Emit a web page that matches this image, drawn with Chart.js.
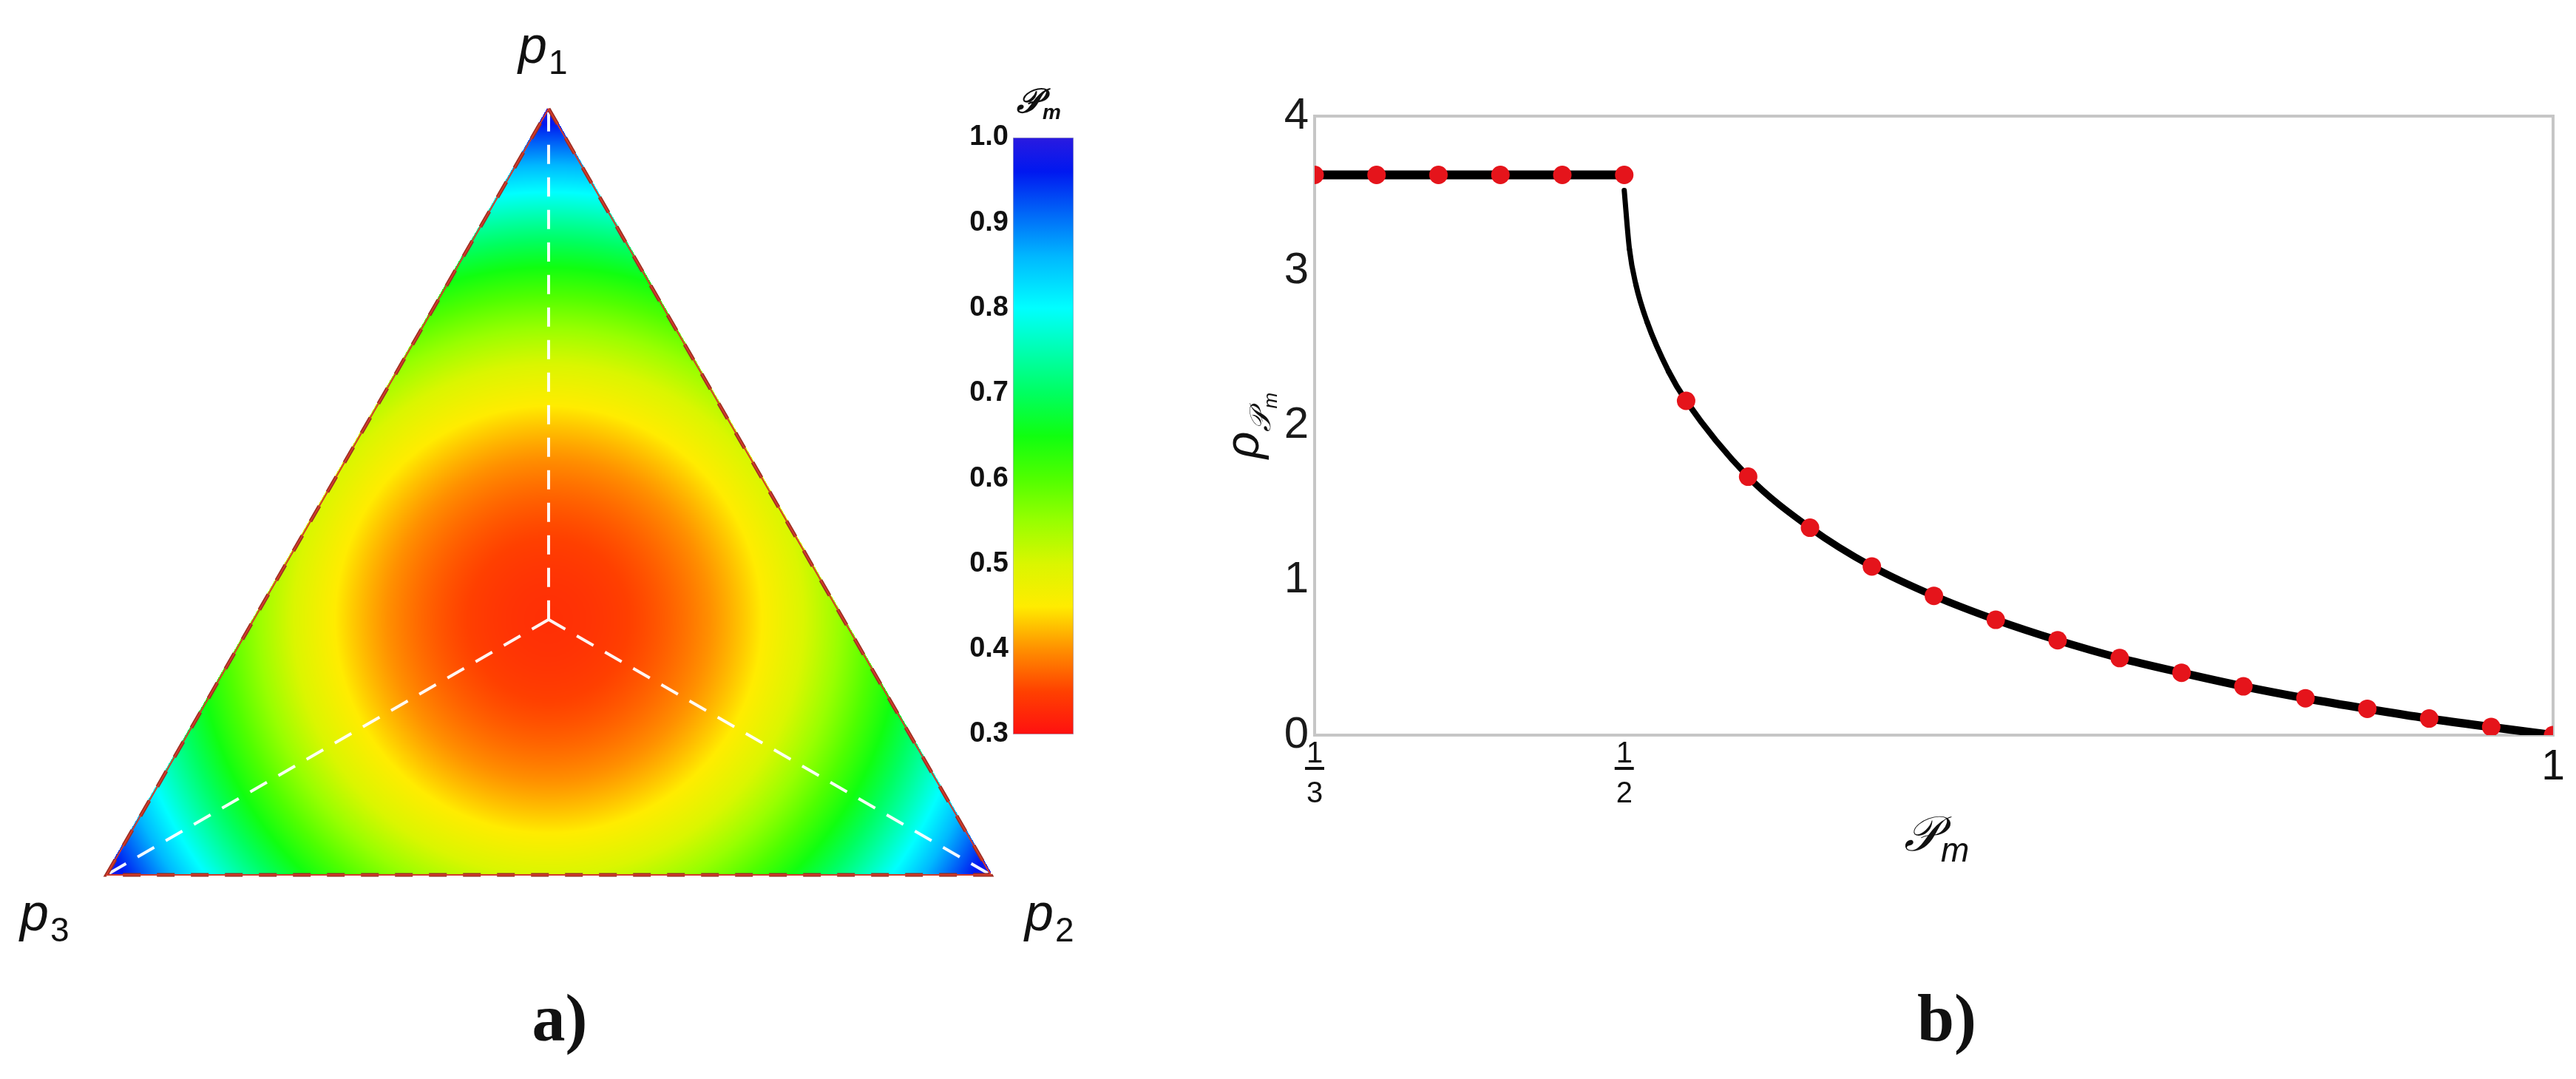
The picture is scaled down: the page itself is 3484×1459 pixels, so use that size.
<!DOCTYPE html>
<html>
<head>
<meta charset="utf-8">
<script src="https://cdn.jsdelivr.net/npm/chart.js@4.4.1/dist/chart.umd.min.js"></script>
<style>
  html, body { margin: 0; padding: 0; background: #fff; }
  body { width: 3484px; height: 1459px; position: relative; overflow: hidden; }
  canvas { position: absolute; }
</style>
</head>
<body>
<canvas id="ternary" width="1500" height="1459" style="left:0;top:0"></canvas>
<canvas id="colorbar" width="230" height="940" style="left:1250px;top:100px"></canvas>
<canvas id="rhoChart" width="1924" height="1459" style="left:1560px;top:0"></canvas>
<script>
// ---- panel a: ternary map of phi_m ----
// phi_m read at the ternary nodes, step 0.1 (row = p1 index, column = p2 index)
const phiGrid = [
  [1.00, 0.82, 0.68, 0.58, 0.52, 0.50, 0.52, 0.58, 0.68, 0.82, 1.00],
  [0.82, 0.66, 0.54, 0.46, 0.42, 0.42, 0.46, 0.54, 0.66, 0.82],
  [0.68, 0.54, 0.44, 0.38, 0.36, 0.38, 0.44, 0.54, 0.68],
  [0.58, 0.46, 0.38, 0.34, 0.34, 0.38, 0.46, 0.58],
  [0.52, 0.42, 0.36, 0.34, 0.36, 0.42, 0.52],
  [0.50, 0.42, 0.38, 0.38, 0.42, 0.50],
  [0.52, 0.46, 0.44, 0.46, 0.52],
  [0.58, 0.54, 0.54, 0.58],
  [0.68, 0.66, 0.68],
  [0.82, 0.82],
  [1.00],
];
const corners = [[1, 0, 0], [0, 1, 0], [0, 0, 1]];   // p1, p2, p3
const cornerSubs = ['1', '2', '3'];
const centre = [1 / 3, 1 / 3, 1 / 3];
const colorbarTicks = [0.3, 0.4, 0.5, 0.6, 0.7, 0.8, 0.9, 1.0];

// colour scale of the bar (value -> colour)
const cmapValues = [0.3, 0.35, 0.4, 0.45, 0.5, 0.55, 0.6, 0.65, 0.7, 0.75, 0.8, 0.86, 0.91, 0.96, 1.0];
const cmapColors = ['#ff1010', '#ff4000', '#ff9000', '#ffec00', '#daf600', '#98ff00', '#50ff00', '#10ff10',
  '#00ff60', '#00ffb0', '#00ffff', '#00b8ff', '#0068f8', '#0018f0', '#2a1ae0'];

// ---- panel b: rho vs phi_m ----
const phiFlat = [1 / 3, 11 / 30, 2 / 5, 13 / 30, 7 / 15, 1 / 2];
const rhoFlat = [3.62, 3.62, 3.62, 3.62, 3.62, 3.62];
const phiBranch = [0.5, 0.5028, 0.5063, 0.5123, 0.5239];
const rhoBranch = [3.52, 3.14, 2.91, 2.67, 2.35];
const phiDecay = [0.5333, 0.5667, 0.6, 0.6333, 0.6667, 0.7, 0.7333, 0.7667, 0.8, 0.8333, 0.8667, 0.9, 0.9333, 0.9667, 1.0];
const rhoDecay = [2.16, 1.67, 1.34, 1.09, 0.90, 0.745, 0.613, 0.498, 0.403, 0.315, 0.238, 0.170, 0.107, 0.052, 0.0];
const yTicks = [0, 1, 2, 3, 4];
const xTickValues = [1 / 3, 1 / 2, 1];
const xTickNum = ['1', '1', '1'];
const xTickDen = ['3', '2', ''];

const SANS = '"Liberation Sans", Arial, sans-serif';
const SCRIPT_P = '\u{1D4AB}';
const TRI_H = Math.sqrt(3) / 2;

function toXY(p) { return { x: p[1] + 0.5 * p[0], y: TRI_H * p[0] }; }

function hexRgb(h) { return [1, 3, 5].map((i) => parseInt(h.slice(i, i + 2), 16)); }
const cmapRgb = cmapColors.map(hexRgb);
function colorFor(v) {
  if (v <= cmapValues[0]) return cmapRgb[0];
  for (let i = 1; i < cmapValues.length; i++) {
    if (v <= cmapValues[i]) {
      const t = (v - cmapValues[i - 1]) / (cmapValues[i] - cmapValues[i - 1]);
      const a = cmapRgb[i - 1], b = cmapRgb[i];
      return [a[0] + (b[0] - a[0]) * t, a[1] + (b[1] - a[1]) * t, a[2] + (b[2] - a[2]) * t];
    }
  }
  return cmapRgb[cmapRgb.length - 1];
}

// smooth shading between the grid nodes (6-node triangles over the 0.1 grid)
function nodeVal(i, j) { return phiGrid[i][j]; }
function fieldAt(p1, p2) {
  const n = 5;
  const a = Math.min(Math.max(p1 * n, 0), n);
  const b = Math.min(Math.max(p2 * n, 0), n - a);
  const ia = Math.min(Math.floor(a), n - 1);
  const ib = Math.min(Math.floor(b), n - 1 - ia);
  const fa = a - ia, fb = b - ib;
  const I = 2 * ia, J = 2 * ib;
  if (fa + fb <= 1 || ia + ib >= n - 1) {
    const lA = 1 - fa - fb, lB = fa, lC = fb;
    return nodeVal(I, J) * lA * (2 * lA - 1) + nodeVal(I + 2, J) * lB * (2 * lB - 1) + nodeVal(I, J + 2) * lC * (2 * lC - 1)
      + 4 * lA * lB * nodeVal(I + 1, J) + 4 * lA * lC * nodeVal(I, J + 1) + 4 * lB * lC * nodeVal(I + 1, J + 1);
  }
  const lD = fa + fb - 1, lB = 1 - fb, lC = 1 - fa;
  return nodeVal(I + 2, J + 2) * lD * (2 * lD - 1) + nodeVal(I + 2, J) * lB * (2 * lB - 1) + nodeVal(I, J + 2) * lC * (2 * lC - 1)
    + 4 * lD * lB * nodeVal(I + 2, J + 1) + 4 * lD * lC * nodeVal(I + 1, J + 2) + 4 * lB * lC * nodeVal(I + 1, J + 1);
}

// draws "base" then a lowered subscript, starting at x, baseline y
function drawSub(ctx, x, y, base, baseFont, sub, subFont, drop) {
  ctx.font = baseFont;
  ctx.fillText(base, x, y);
  const w = ctx.measureText(base).width;
  ctx.font = subFont;
  ctx.fillText(sub, x + w + 2, y + drop);
  return w + 2 + ctx.measureText(sub).width;
}

const heatPlugin = {
  id: 'heat',
  beforeDatasetsDraw(chart) {
    const { ctx, chartArea: a, scales: { x, y } } = chart;
    const w = Math.round(a.right - a.left), h = Math.round(a.bottom - a.top);
    if (!chart.$heat) {
      const off = document.createElement('canvas');
      off.width = w; off.height = h;
      const octx = off.getContext('2d');
      const img = octx.createImageData(w, h);
      for (let py = 0; py < h; py++) {
        const p1 = y.getValueForPixel(a.top + py + 0.5) / TRI_H;
        for (let px = 0; px < w; px++) {
          const p2 = x.getValueForPixel(a.left + px + 0.5) - 0.5 * p1;
          const p3 = 1 - p1 - p2;
          if (p1 < -0.002 || p2 < -0.002 || p3 < -0.002) continue;
          const c = colorFor(fieldAt(p1, p2));
          const k = (py * w + px) * 4;
          img.data[k] = c[0]; img.data[k + 1] = c[1]; img.data[k + 2] = c[2]; img.data[k + 3] = 255;
        }
      }
      octx.putImageData(img, 0, 0);
      chart.$heat = off;
    }
    ctx.drawImage(chart.$heat, a.left, a.top);
  },
  afterDraw(chart) {
    const { ctx, scales: { x, y } } = chart;
    ctx.save();
    ctx.fillStyle = '#111';
    ctx.textBaseline = 'alphabetic';
    const offs = [[-41, -62], [46, 75], [-117, 75]];
    corners.forEach((c, i) => {
      const v = toXY(c);
      const px = x.getPixelForValue(v.x), py = y.getPixelForValue(v.y);
      drawSub(ctx, px + offs[i][0], py + offs[i][1], 'p', 'italic 70px ' + SANS, cornerSubs[i], '46px ' + SANS, 15);
    });
    ctx.font = 'bold 90px "Liberation Serif", "Times New Roman", serif';
    ctx.textAlign = 'center';
    ctx.fillText('a)', 757, 1407);
    ctx.restore();
  },
};

const edgeData = [corners[0], corners[1], corners[2], corners[0]].map(toXY);
const spokes = corners.map((c) => ({
  data: [toXY(centre), toXY(c)], showLine: true, pointRadius: 0, borderColor: 'rgba(255,255,255,0.95)',
  borderWidth: 4, borderDash: [26, 18], clip: false,
}));

new Chart(document.getElementById('ternary'), {
  type: 'scatter',
  data: {
    datasets: [
      { data: edgeData, showLine: true, pointRadius: 0, borderColor: '#d23a2a', borderWidth: 2, clip: false },
      { data: edgeData, showLine: true, pointRadius: 0, borderColor: '#9a2e22', borderWidth: 5, borderDash: [24, 22], clip: false },
      ...spokes,
    ],
  },
  options: {
    responsive: false, animation: false,
    layout: { padding: { left: 144, right: 160, top: 147, bottom: 276 } },
    plugins: { legend: { display: false }, tooltip: { enabled: false } },
    scales: {
      x: { type: 'linear', min: 0, max: 1, display: false },
      y: { type: 'linear', min: 0, max: TRI_H, display: false },
    },
  },
  plugins: [heatPlugin],
});

// colour bar
new Chart(document.getElementById('colorbar'), {
  type: 'bar',
  data: {
    labels: [''],
    datasets: [{
      data: [[colorbarTicks[0], colorbarTicks[colorbarTicks.length - 1]]],
      backgroundColor: (c) => {
        const area = c.chart.chartArea;
        if (!area) return '#888';
        const g = c.chart.ctx.createLinearGradient(0, area.bottom, 0, area.top);
        cmapValues.forEach((v, i) => g.addColorStop((v - 0.3) / 0.7, cmapColors[i]));
        return g;
      },
      borderColor: '#a9a9c0', borderWidth: 1, borderSkipped: false,
      barPercentage: 1, categoryPercentage: 1,
    }],
  },
  options: {
    responsive: false, animation: false,
    layout: { padding: { left: 0, right: 28, top: 86, bottom: 47 } },
    plugins: { legend: { display: false }, tooltip: { enabled: false } },
    scales: {
      x: { display: false },
      y: {
        min: 0.3, max: 1.0,
        afterBuildTicks: (s) => { s.ticks = colorbarTicks.map((v) => ({ value: v })); },
        afterFit: (s) => { s.width = 120; },
        ticks: { callback: (v) => Number(v).toFixed(1), color: '#111', padding: 6, font: { family: SANS, size: 38, weight: 'bold' } },
        grid: { display: false, drawTicks: false },
        border: { display: false },
      },
    },
  },
  plugins: [{
    id: 'cbTitle',
    afterDraw(chart) {
      const { ctx, chartArea: a } = chart;
      ctx.save();
      ctx.fillStyle = '#111';
      drawSub(ctx, (a.left + a.right) / 2 - 36, 52, SCRIPT_P, 'bold italic 46px "DejaVu Serif", serif', 'm', 'bold italic 28px ' + SANS, 9);
      ctx.restore();
    },
  }],
});

// panel b
const toPts = (xs, ys) => xs.map((v, i) => ({ x: v, y: ys[i] }));

const axisPlugin = {
  id: 'axisDeco',
  beforeDatasetsDraw(chart) {
    const { ctx, chartArea: a } = chart;
    ctx.save();
    ctx.strokeStyle = '#c6c6c6';
    ctx.lineWidth = 4;
    ctx.strokeRect(a.left, a.top, a.right - a.left, a.bottom - a.top);
    ctx.restore();
  },
  afterDraw(chart) {
    const { ctx, chartArea: a, scales: { x, y } } = chart;
    ctx.save();
    ctx.fillStyle = '#111';
    ctx.strokeStyle = '#111';
    ctx.textAlign = 'center';
    ctx.textBaseline = 'middle';
    xTickValues.forEach((v, i) => {
      const px = x.getPixelForValue(v);
      if (xTickDen[i]) {
        ctx.font = '40px ' + SANS;
        ctx.fillText(xTickNum[i], px, a.bottom + 26);
        ctx.fillText(xTickDen[i], px, a.bottom + 80);
        ctx.lineWidth = 4;
        ctx.beginPath();
        ctx.moveTo(px - 13, a.bottom + 45);
        ctx.lineTo(px + 13, a.bottom + 45);
        ctx.stroke();
      } else {
        ctx.font = '57px ' + SANS;
        ctx.fillText(xTickNum[i], px, a.bottom + 44);
      }
    });
    // x title
    ctx.textAlign = 'left';
    ctx.textBaseline = 'alphabetic';
    drawSub(ctx, 2575 - 1560, 1150, SCRIPT_P, 'italic 66px "DejaVu Serif", serif', 'm', 'italic 46px ' + SANS, 15);
    // y title (rotated)
    ctx.save();
    ctx.translate(1702 - 1560, y.getPixelForValue(2));
    ctx.rotate(-Math.PI / 2);
    const fr = 'italic 64px ' + SANS, fp = 'italic 40px "DejaVu Serif", serif', fm = 'italic 26px ' + SANS;
    ctx.font = fr;
    const wr = ctx.measureText('\u03C1').width;
    ctx.font = fp;
    const wp = ctx.measureText(SCRIPT_P).width;
    ctx.font = fm;
    const wm = ctx.measureText('m').width;
    let cx = -(wr + wp + wm + 2) / 2;
    ctx.font = fr;
    ctx.fillText('\u03C1', cx, 0);
    cx += wr;
    ctx.font = fp;
    ctx.fillText(SCRIPT_P, cx, 16);
    cx += wp + 2;
    ctx.font = fm;
    ctx.fillText('m', cx, 25);
    ctx.restore();
    // panel label
    ctx.font = 'bold 90px "Liberation Serif", "Times New Roman", serif';
    ctx.textAlign = 'center';
    ctx.fillText('b)', 2633 - 1560, 1407);
    ctx.restore();
  },
};

new Chart(document.getElementById('rhoChart'), {
  type: 'scatter',
  data: {
    datasets: [
      {
        data: toPts(phiFlat.concat(phiDecay), rhoFlat.concat(rhoDecay)),
        pointRadius: 12.5, pointBackgroundColor: '#e5141b', pointBorderWidth: 0, showLine: false, clip: 0, order: 0,
      },
      {
        data: toPts(phiFlat, rhoFlat), showLine: true, pointRadius: 0, borderColor: '#000', borderWidth: 12, order: 1,
      },
      {
        data: toPts(phiBranch.concat(phiDecay), rhoBranch.concat(rhoDecay)), showLine: true, pointRadius: 0,
        borderColor: '#000', borderWidth: 9, borderCapStyle: 'round', cubicInterpolationMode: 'monotone', order: 1,
        segment: {
          borderWidth: (s) => {
            const dx = s.p1.x - s.p0.x, dy = s.p1.y - s.p0.y;
            return 12 - 5 * Math.abs(dy) / Math.hypot(dx, dy);
          },
        },
      },
    ],
  },
  options: {
    responsive: false, animation: false,
    layout: { padding: { left: 0, right: 31, top: 157, bottom: 465 } },
    plugins: { legend: { display: false }, tooltip: { enabled: false } },
    scales: {
      x: { type: 'linear', min: 1 / 3, max: 1, display: false },
      y: {
        type: 'linear', min: 0, max: 4,
        afterBuildTicks: (s) => { s.ticks = yTicks.map((v) => ({ value: v })); },
        afterFit: (s) => { s.width = 218; },
        ticks: { color: '#1a1a1a', padding: 8, font: { family: SANS, size: 60 } },
        grid: { display: false, drawTicks: false },
        border: { display: false },
      },
    },
  },
  plugins: [axisPlugin],
});
</script>
</body>
</html>
